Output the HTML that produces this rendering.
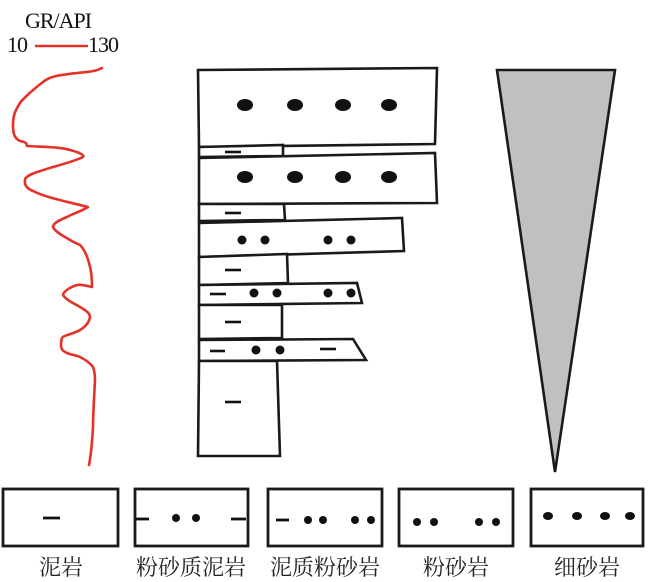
<!DOCTYPE html>
<html><head><meta charset="utf-8"><style>html,body{margin:0;padding:0;background:#fff;}svg{display:block}</style></head>
<body>
<svg width="650" height="582" viewBox="0 0 650 582" xmlns="http://www.w3.org/2000/svg">
<g font-family="Liberation Serif, serif" font-size="22" fill="#111">
<text x="25" y="28" letter-spacing="-1">GR/API</text>
<text x="7" y="52" letter-spacing="-1">10</text>
<text x="88" y="52" letter-spacing="-1">130</text>
</g>
<line x1="35" y1="46" x2="88" y2="46" stroke="#e53229" stroke-width="2.5"/>
<path d="M102,68 C95,72 85,72 77,73 C60,75 50,76 43,82 C30,92 22,100 20,103 C14,112 13,118 13,125 C13,133 14,138 20,141 C25,142 27,143 27,146 C45,147 60,147 70,150 C78,152 85,155 83,157 C75,161 60,165 53,167 C40,171 25,175 25,180 C24,186 28,189 33,191 C45,197 60,200 88,207 C82,211 72,214 67,217 C60,220 53,223 53,227 C55,232 65,237 70,240 C75,243 78,244 80,245 C85,250 88,258 90,267 C92,275 92,282 92,287 C87,286 82,284 77,285 C70,287 63,292 63,295 C66,300 75,304 80,307 C85,310 90,313 90,317 C89,323 85,327 80,330 C73,334 62,336 62,338 C60,345 61,350 65,352 C70,355 76,355 80,357 C86,360 90,363 93,367 C95,372 95,377 95,380 C94,400 93,415 93,427 C92,445 91,455 89,465" fill="none" stroke="#e53229" stroke-width="2.6" stroke-linecap="round" stroke-linejoin="round"/>
<g fill="#fff" stroke="#1a1a1a" stroke-width="2.6" stroke-linejoin="miter">
<polygon points="198,70 437,68 435,144 199,147"/>
<polygon points="199,147 283,145 283,156 199,157"/>
<polygon points="199,158 435,153 437,203 199,204"/>
<polygon points="199,204 284,204 285,220 199,221"/>
<polygon points="199,223 402,218 404,251 199,257"/>
<polygon points="199,257 287,254 288,283 199,285"/>
<polygon points="199,285 357,283 362,303 199,305"/>
<polygon points="199,305 282,305 282,338 199,339"/>
<polygon points="199,340 353,339 366,360 199,361"/>
<polygon points="199,361 277,361 280,456 198,456"/>
</g>
<polygon points="497,70 615,70 555,472" fill="#c0c0c0" stroke="#1a1a1a" stroke-width="2.6"/>
<g fill="#111">
<ellipse cx="245" cy="105" rx="8" ry="6"/><ellipse cx="295" cy="105" rx="8" ry="6"/><ellipse cx="343" cy="105" rx="8" ry="6"/><ellipse cx="389" cy="105" rx="8" ry="6"/>
<ellipse cx="245" cy="177" rx="8" ry="6"/><ellipse cx="295" cy="177" rx="8" ry="6"/><ellipse cx="343" cy="177" rx="8" ry="6"/><ellipse cx="389" cy="177" rx="8" ry="6"/>
<circle cx="242" cy="240" r="4.5"/><circle cx="265" cy="240" r="4.5"/><circle cx="328" cy="240" r="4.5"/><circle cx="351" cy="240" r="4.5"/>
<circle cx="254" cy="293" r="4.5"/><circle cx="277" cy="293" r="4.5"/><circle cx="328" cy="293" r="4.5"/><circle cx="351" cy="293" r="4.5"/>
<circle cx="256" cy="350" r="4.5"/><circle cx="280" cy="350" r="4.5"/>
</g>
<g stroke="#111" stroke-width="2.6">
<line x1="225" y1="152" x2="241" y2="152"/>
<line x1="225" y1="213" x2="241" y2="213"/>
<line x1="225" y1="270" x2="241" y2="270"/>
<line x1="210" y1="294" x2="226" y2="294"/>
<line x1="225" y1="322" x2="241" y2="322"/>
<line x1="210" y1="351" x2="225" y2="351"/>
<line x1="320" y1="349" x2="336" y2="349"/>
<line x1="225" y1="402" x2="241" y2="402"/>
</g>
<g fill="#fff" stroke="#1a1a1a" stroke-width="2.8">
<rect x="3" y="489" width="115" height="57"/>
<rect x="135" y="489" width="113" height="57"/>
<rect x="268" y="489" width="114" height="57"/>
<rect x="399" y="489" width="114" height="57"/>
<rect x="531" y="489" width="112" height="57"/>
</g>
<g stroke="#111" stroke-width="2.8">
<line x1="43" y1="518" x2="60" y2="518"/>
<line x1="135" y1="519" x2="149" y2="519"/>
<line x1="231" y1="519" x2="246" y2="519"/>
<line x1="276" y1="520" x2="289" y2="520"/>
</g>
<g fill="#111">
<circle cx="176" cy="518" r="4"/><circle cx="196" cy="518" r="4"/>
<circle cx="308" cy="520" r="4"/><circle cx="323" cy="520" r="4"/><circle cx="355" cy="520" r="4"/><circle cx="371" cy="520" r="4"/>
<circle cx="417" cy="522" r="4"/><circle cx="434" cy="522" r="4"/><circle cx="479" cy="522" r="4"/><circle cx="496" cy="522" r="4"/>
<ellipse cx="548" cy="516" rx="5" ry="4"/><ellipse cx="577" cy="516" rx="5" ry="4"/><ellipse cx="605" cy="516" rx="5" ry="4"/><ellipse cx="630" cy="516" rx="5" ry="4"/>
</g>
<g font-family="Liberation Serif, Noto Serif CJK SC, serif" font-size="22" fill="#222" text-anchor="middle">
<text x="61" y="575">泥岩</text>
<text x="191" y="575">粉砂质泥岩</text>
<text x="325" y="575">泥质粉砂岩</text>
<text x="456" y="575">粉砂岩</text>
<text x="587" y="575">细砂岩</text>
</g>
</svg>
</body></html>
